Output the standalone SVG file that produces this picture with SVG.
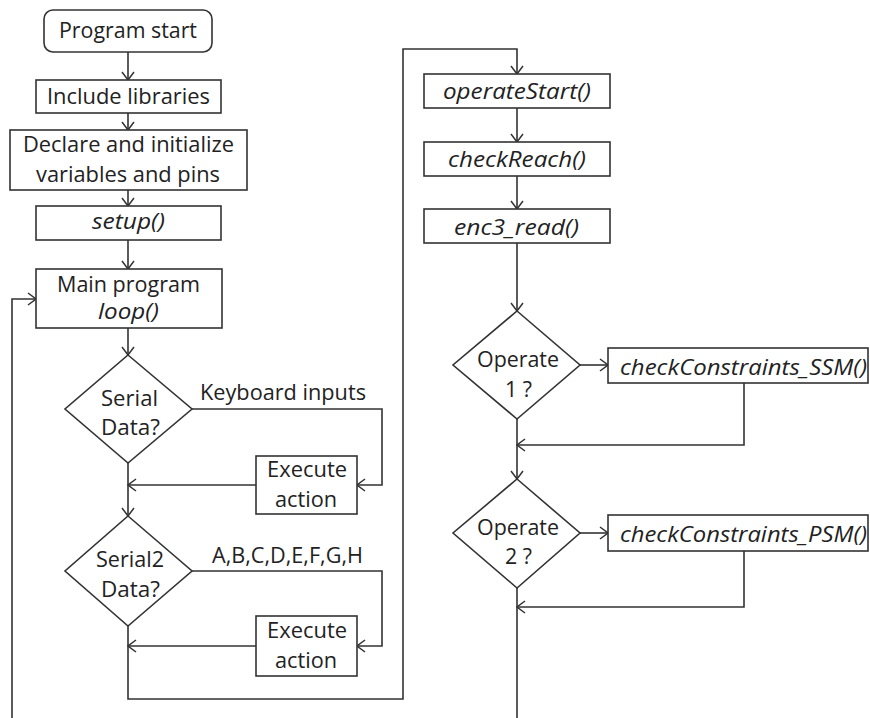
<svg xmlns="http://www.w3.org/2000/svg" width="870" height="718" viewBox="0 0 870 718">
  <style>
    .box { fill: #fff; stroke: #333; stroke-width: 1.6; }
    .wire { fill: none; stroke: #333; stroke-width: 1.6; }
    text { font-family: "Open Sans", "Liberation Sans", sans-serif; font-size: 21px; fill: #222; text-anchor: middle; }
    .it { font-style: italic; }
  </style>
  <defs>
    <marker id="arr" viewBox="-1 -7 10 14" refX="8" refY="0" markerWidth="10" markerHeight="14" markerUnits="userSpaceOnUse" orient="auto">
      <path d="M0,-6 L8,0 L0,6" fill="none" stroke="#333" stroke-width="1.5"/>
    </marker>
  </defs>
  <rect width="870" height="718" fill="#fff"/>

  <g id="connectors">
    <path class="wire" d="M128,52 V80" marker-end="url(#arr)"/>
    <path class="wire" d="M128,113 V130" marker-end="url(#arr)"/>
    <path class="wire" d="M128,190 V206" marker-end="url(#arr)"/>
    <path class="wire" d="M128,240 V269" marker-end="url(#arr)"/>
    <path class="wire" d="M12,718 V299 H36" marker-end="url(#arr)"/>
    <path class="wire" d="M128,328 V355" marker-end="url(#arr)"/>
    <path class="wire" d="M192,409 H382 V485 H357" marker-end="url(#arr)"/>
    <path class="wire" d="M256,485 H128" marker-end="url(#arr)"/>
    <path class="wire" d="M128,463 V516" marker-end="url(#arr)"/>
    <path class="wire" d="M192,571 H382 V646 H357" marker-end="url(#arr)"/>
    <path class="wire" d="M256,646 H128" marker-end="url(#arr)"/>
    <path class="wire" d="M128,626 V699 H403 V49 H517 V74" marker-end="url(#arr)"/>
    <path class="wire" d="M517,108 V142" marker-end="url(#arr)"/>
    <path class="wire" d="M517,176 V209" marker-end="url(#arr)"/>
    <path class="wire" d="M517,243 V311" marker-end="url(#arr)"/>
    <path class="wire" d="M580,365 H608" marker-end="url(#arr)"/>
    <path class="wire" d="M744,383 V445 H517" marker-end="url(#arr)"/>
    <path class="wire" d="M517,419 V479" marker-end="url(#arr)"/>
    <path class="wire" d="M580,533 H608" marker-end="url(#arr)"/>
    <path class="wire" d="M744,551 V607 H517" marker-end="url(#arr)"/>
    <path class="wire" d="M517,588 V718"/>
  </g>

  <g id="program-start">
    <rect class="box" x="44" y="10" width="168" height="42" rx="9"/>
    <text x="128" y="38" textLength="138" lengthAdjust="spacingAndGlyphs">Program start</text>
  </g>
  <g id="include-libraries">
    <rect class="box" x="36" y="80" width="185" height="33"/>
    <text x="128.5" y="104" textLength="163" lengthAdjust="spacingAndGlyphs">Include libraries</text>
  </g>
  <g id="declare">
    <rect class="box" x="10" y="130" width="237" height="60"/>
    <text x="128.5" y="152" textLength="211" lengthAdjust="spacingAndGlyphs">Declare and initialize</text>
    <text x="128" y="182" textLength="184" lengthAdjust="spacingAndGlyphs">variables and pins</text>
  </g>
  <g id="setup">
    <rect class="box" x="36" y="206" width="185" height="34"/>
    <text class="it" x="128.5" y="229" textLength="73" lengthAdjust="spacingAndGlyphs">setup()</text>
  </g>
  <g id="main-loop">
    <rect class="box" x="36" y="269" width="186" height="59"/>
    <text x="128.5" y="292" textLength="143" lengthAdjust="spacingAndGlyphs">Main program</text>
    <text class="it" x="128.5" y="319" textLength="61" lengthAdjust="spacingAndGlyphs">loop()</text>
  </g>
  <g id="serial-data">
    <polygon class="box" points="128,355 192,409 128,463 65,409"/>
    <text x="129.5" y="406" textLength="57" lengthAdjust="spacingAndGlyphs">Serial</text>
    <text x="130.5" y="435" textLength="59" lengthAdjust="spacingAndGlyphs">Data?</text>
  </g>
  <g id="keyboard-label">
    <text x="283" y="400" textLength="166" lengthAdjust="spacingAndGlyphs">Keyboard inputs</text>
  </g>
  <g id="execute-1">
    <rect class="box" x="256" y="456" width="101" height="58"/>
    <text x="307" y="477" textLength="80" lengthAdjust="spacingAndGlyphs">Execute</text>
    <text x="306" y="507" textLength="62" lengthAdjust="spacingAndGlyphs">action</text>
  </g>
  <g id="serial2-data">
    <polygon class="box" points="128,516 192,571 128,626 65,571"/>
    <text x="130" y="567" textLength="68" lengthAdjust="spacingAndGlyphs">Serial2</text>
    <text x="130.5" y="597" textLength="59" lengthAdjust="spacingAndGlyphs">Data?</text>
  </g>
  <g id="letters-label">
    <text x="287.5" y="563" textLength="151" lengthAdjust="spacingAndGlyphs">A,B,C,D,E,F,G,H</text>
  </g>
  <g id="execute-2">
    <rect class="box" x="256" y="616" width="101" height="60"/>
    <text x="307" y="638" textLength="80" lengthAdjust="spacingAndGlyphs">Execute</text>
    <text x="306" y="668" textLength="62" lengthAdjust="spacingAndGlyphs">action</text>
  </g>

  <g id="operate-start">
    <rect class="box" x="424" y="74" width="186" height="34"/>
    <text class="it" x="517" y="99" textLength="148" lengthAdjust="spacingAndGlyphs">operateStart()</text>
  </g>
  <g id="check-reach">
    <rect class="box" x="424" y="142" width="186" height="34"/>
    <text class="it" x="517" y="167" textLength="138" lengthAdjust="spacingAndGlyphs">checkReach()</text>
  </g>
  <g id="enc3-read">
    <rect class="box" x="424" y="209" width="186" height="34"/>
    <text class="it" x="516.5" y="235" textLength="125" lengthAdjust="spacingAndGlyphs">enc3_read()</text>
  </g>
  <g id="operate-1">
    <polygon class="box" points="517,311 580,365 517,419 453,365"/>
    <text x="518" y="367" textLength="82" lengthAdjust="spacingAndGlyphs">Operate</text>
    <text x="518.5" y="397" textLength="27" lengthAdjust="spacingAndGlyphs">1 ?</text>
  </g>
  <g id="check-ssm">
    <rect class="box" x="608" y="348" width="260" height="35"/>
    <text class="it" x="743.5" y="375" textLength="247" lengthAdjust="spacingAndGlyphs">checkConstraints_SSM()</text>
  </g>
  <g id="operate-2">
    <polygon class="box" points="517,479 580,533 517,588 453,533"/>
    <text x="518" y="535" textLength="82" lengthAdjust="spacingAndGlyphs">Operate</text>
    <text x="518.5" y="564" textLength="27" lengthAdjust="spacingAndGlyphs">2 ?</text>
  </g>
  <g id="check-psm">
    <rect class="box" x="608" y="515" width="260" height="36"/>
    <text class="it" x="743.5" y="542" textLength="247" lengthAdjust="spacingAndGlyphs">checkConstraints_PSM()</text>
  </g>
</svg>
